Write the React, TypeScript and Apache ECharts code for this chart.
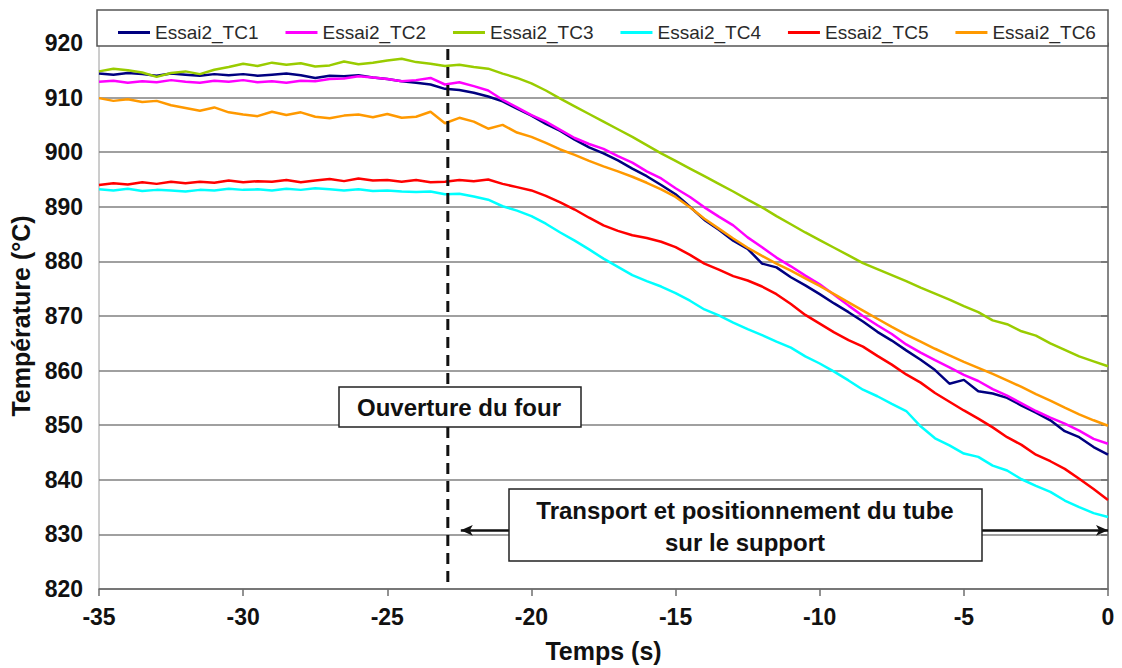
import React, { useEffect, useRef } from "react";
import * as echarts from "echarts";

const times = [
  -35, -34.5, -34, -33.5, -33, -32.5, -32, -31.5, -31, -30.5, -30, -29.5, -29, -28.5, -28, -27.5, -27, -26.5,
  -26, -25.5, -25, -24.5, -24, -23.5, -23, -22.5, -22, -21.5, -21, -20.5, -20, -19.5, -19, -18.5, -18, -17.5,
  -17, -16.5, -16, -15.5, -15, -14.5, -14, -13.5, -13, -12.5, -12, -11.5, -11, -10.5, -10, -9.5, -9, -8.5,
  -8, -7.5, -7, -6.5, -6, -5.5, -5, -4.5, -4, -3.5, -3, -2.5, -2, -1.5, -1, -0.5, 0,
];

const tc1 = [
  914.4, 914.2, 914.5, 914.3, 914.0, 914.4, 914.2, 914.0, 914.3, 914.1, 914.3, 914.0, 914.2, 914.4, 914.1, 913.6, 914.0, 913.9,
  914.1, 913.7, 913.4, 913.0, 912.7, 912.4, 911.6, 911.4, 910.9, 910.2, 909.3, 908.0, 906.7, 905.2, 903.9, 902.3, 900.9, 899.8,
  898.5, 897.0, 895.6, 894.0, 892.3, 890.0, 887.6, 885.8, 883.8, 882.3, 879.6, 878.9, 877.1, 875.6, 874.0, 872.3, 870.7, 869.0,
  867.1, 865.5, 863.7, 862.0, 860.1, 857.6, 858.3, 856.2, 855.8, 855.0, 853.6, 852.3, 850.9, 848.9, 847.8, 846.0, 844.6,
];

const tc2 = [
  912.9, 913.1, 912.7, 913.0, 912.8, 913.2, 912.9, 912.7, 913.1, 912.9, 913.2, 912.8, 913.0, 912.7, 913.1, 913.0, 913.4, 913.5,
  913.9, 913.7, 913.4, 913.0, 913.2, 913.6, 912.4, 912.8, 912.1, 911.3, 909.6, 908.2, 906.8, 905.6, 904.1, 902.6, 901.5, 900.6,
  899.3, 898.1, 896.5, 895.2, 893.4, 891.8, 889.9, 888.2, 886.6, 884.4, 882.6, 880.7, 879.1, 877.4, 875.8, 873.9, 871.9, 870.0,
  868.3, 866.7, 864.8, 863.3, 861.9, 860.6, 859.2, 858.1, 856.6, 855.4, 854.0, 852.6, 851.4, 850.3, 849.0, 847.5, 846.6,
];

const tc3 = [
  914.8, 915.3, 915.0, 914.6, 913.8, 914.5, 914.8, 914.3, 915.1, 915.6, 916.2, 915.8, 916.4, 916.0, 916.3, 915.7, 915.9, 916.6,
  916.1, 916.4, 916.8, 917.1, 916.5, 916.2, 915.8, 916.0, 915.6, 915.3, 914.4, 913.6, 912.6, 911.3, 909.8, 908.4, 907.0, 905.6,
  904.2, 902.8, 901.3, 899.8, 898.4, 897.0, 895.6, 894.2, 892.8, 891.3, 889.9, 888.3, 886.8, 885.3, 883.9, 882.5, 881.1, 879.7,
  878.6, 877.5, 876.4, 875.2, 874.1, 873.0, 871.8, 870.7, 869.2, 868.5, 867.2, 866.4, 865.0, 863.8, 862.6, 861.7, 860.8,
];

const tc4 = [
  893.2, 893.0, 893.3, 892.9, 893.1, 893.0, 892.8, 893.1, 893.0, 893.3, 893.1, 893.2, 893.0, 893.3, 893.1, 893.4, 893.2, 893.0,
  893.2, 892.9, 893.0, 892.8, 892.7, 892.8, 892.3, 892.4, 891.9, 891.3, 890.1, 889.3, 888.3, 886.9, 885.3, 883.8, 882.2, 880.5,
  879.0, 877.5, 876.4, 875.4, 874.2, 872.8, 871.2, 870.1, 868.8, 867.6, 866.5, 865.3, 864.2, 862.6, 861.3, 859.8, 858.2, 856.5,
  855.3, 853.9, 852.6, 849.8, 847.6, 846.3, 844.8, 844.2, 842.6, 841.7, 840.1, 838.9, 837.8, 836.2, 835.0, 833.9, 833.2,
];

const tc5 = [
  894.0, 894.3, 894.1, 894.5, 894.2, 894.6, 894.3, 894.6, 894.4, 894.8, 894.5, 894.7, 894.6, 894.9, 894.5, 894.8, 895.1, 894.7,
  895.2, 894.8, 894.9, 894.6, 894.9, 894.5, 894.6, 894.9, 894.7, 895.0, 894.2, 893.6, 893.0, 892.0, 890.8, 889.5, 888.0, 886.6,
  885.6, 884.8, 884.3, 883.6, 882.6, 881.2, 879.6, 878.5, 877.3, 876.5, 875.4, 874.0, 872.2, 870.2, 868.6, 867.0, 865.6, 864.4,
  862.7, 861.1, 859.3, 857.8, 855.9, 854.3, 852.7, 851.2, 849.6, 847.8, 846.4, 844.6, 843.4, 842.0, 840.2, 838.3, 836.3,
];

const tc6 = [
  909.9, 909.4, 909.7, 909.2, 909.4, 908.6, 908.1, 907.6, 908.2, 907.3, 906.9, 906.6, 907.4, 906.8, 907.3, 906.5, 906.2, 906.7,
  906.9, 906.4, 907.0, 906.3, 906.5, 907.4, 905.3, 906.3, 905.6, 904.3, 905.0, 903.6, 902.8, 901.7, 900.5, 899.5, 898.4, 897.4,
  896.5, 895.5, 894.4, 893.2, 891.8, 889.9, 887.8, 886.0, 884.2, 882.5, 881.0, 879.6, 878.3, 876.9, 875.5, 874.0, 872.5, 871.0,
  869.5, 868.0, 866.6, 865.3, 864.0, 862.8, 861.6, 860.5, 859.4, 858.2, 857.0, 855.7, 854.5, 853.2, 852.0, 850.9, 849.9,
];

const seriesNames = ["Essai2_TC1", "Essai2_TC2", "Essai2_TC3", "Essai2_TC4", "Essai2_TC5", "Essai2_TC6"];
const seriesColors = ["#000080", "#FF00FF", "#99CC00", "#00FFFF", "#FF0000", "#FF9900"];
const seriesValues = [tc1, tc2, tc3, tc4, tc5, tc6];

const openingTime = -22.9;
const openingRange = [821.3, 920];
const transportStart = -22.45;
const transportEnd = 0;
const transportLevel = 830.75;

const xMin = -35;
const xMax = 0;
const xStep = 5;
const yMin = 820;
const yMax = 920;
const yStep = 10;

const FONT = "'Liberation Sans', Arial, sans-serif";

export default function App() {
  const ref = useRef<HTMLDivElement>(null);

  useEffect(() => {
    if (!ref.current) return;
    const chart = echarts.init(ref.current, undefined, { renderer: "svg" });

    const lineSeries = seriesNames.map((name, i) => ({
      name,
      type: "line",
      data: times.map((t, j) => [t, seriesValues[i][j]]),
      showSymbol: false,
      symbol: "none",
      lineStyle: { color: seriesColors[i], width: 2.5 },
      itemStyle: { color: seriesColors[i] },
      z: 2,
      silent: true,
    }));

    const option = {
      animation: false,
      backgroundColor: "#ffffff",
      textStyle: { fontFamily: FONT },
      grid: {
        left: 97,
        right: 14,
        top: 43,
        bottom: 78,
        show: true,
        borderColor: "#9a9a9a",
        borderWidth: 1,
      },
      legend: {
        data: seriesNames,
        left: 113,
        top: 18,
        icon: "rect",
        itemWidth: 32,
        itemHeight: 3,
        itemGap: 27,
        z: 60,
        textStyle: { fontFamily: FONT, fontSize: 19, color: "#2a2a2a" },
      },
      xAxis: {
        type: "value",
        min: xMin,
        max: xMax,
        interval: xStep,
        name: "Temps (s)",
        nameLocation: "middle",
        nameGap: 49,
        nameTextStyle: { fontFamily: FONT, fontSize: 25, fontWeight: "bold", color: "#111" },
        axisLine: { show: true, lineStyle: { color: "#6e6e6e", width: 1.5 } },
        axisTick: { show: true, length: 7, lineStyle: { color: "#6e6e6e", width: 1.5 } },
        axisLabel: { fontFamily: FONT, fontSize: 23, fontWeight: "bold", color: "#111", margin: 16 },
        splitLine: { show: false },
      },
      yAxis: {
        type: "value",
        min: yMin,
        max: yMax,
        interval: yStep,
        name: "Température (°C)",
        nameLocation: "middle",
        nameGap: 66,
        nameTextStyle: { fontFamily: FONT, fontSize: 25, fontWeight: "bold", color: "#111" },
        axisLine: { show: true, lineStyle: { color: "#6e6e6e", width: 1.5 } },
        axisTick: { show: true, length: 7, lineStyle: { color: "#6e6e6e", width: 1.5 } },
        axisLabel: { fontFamily: FONT, fontSize: 23, fontWeight: "bold", color: "#111", margin: 16 },
        splitLine: { show: true, lineStyle: { color: "#808080", width: 1.5 } },
      },
      series: [
        ...lineSeries,
        {
          name: "Ouverture",
          type: "line",
          data: [
            [openingTime, openingRange[0]],
            [openingTime, openingRange[1]],
          ],
          showSymbol: false,
          symbol: "none",
          silent: true,
          z: 3,
          lineStyle: { color: "#111", width: 3, type: [11, 7] },
          markLine: {
            silent: true,
            symbol: ["arrow", "arrow"],
            symbolSize: [8, 12],
            label: { show: false },
            lineStyle: { color: "#111", width: 2.5, type: "solid" },
            data: [
              [
                { coord: [transportStart, transportLevel] },
                { coord: [transportEnd, transportLevel] },
              ],
            ],
          },
        },
      ],
      graphic: [
        {
          type: "rect",
          z: 50,
          shape: { x: 97, y: 10, width: 1011, height: 36 },
          style: { fill: "#ffffff", stroke: "#555", lineWidth: 1.5 },
        },
        {
          type: "group",
          z: 50,
          children: [
            {
              type: "rect",
              z: 50,
              shape: { x: 339, y: 387, width: 242, height: 40 },
              style: { fill: "#ffffff", stroke: "#222", lineWidth: 1.5 },
            },
            {
              type: "text",
              z: 51,
              x: 459,
              y: 407,
              style: {
                text: "Ouverture du four",
                fontFamily: FONT,
                fontSize: 24,
                fontWeight: "bold",
                fill: "#111",
                align: "center",
                verticalAlign: "middle",
              },
            },
            {
              type: "rect",
              z: 50,
              shape: { x: 509, y: 489, width: 473, height: 72 },
              style: { fill: "#ffffff", stroke: "#222", lineWidth: 1.5 },
            },
            {
              type: "text",
              z: 51,
              x: 745,
              y: 526,
              style: {
                text: "Transport et positionnement du tube\nsur le support",
                fontFamily: FONT,
                fontSize: 24,
                fontWeight: "bold",
                lineHeight: 32,
                fill: "#111",
                align: "center",
                verticalAlign: "middle",
              },
            },
          ],
        },
      ],
    };

    chart.setOption(option as any);
    return () => chart.dispose();
  }, []);

  return <div ref={ref} style={{ width: 1122, height: 668, position: "absolute", left: 0, top: 0 }} />;
}
